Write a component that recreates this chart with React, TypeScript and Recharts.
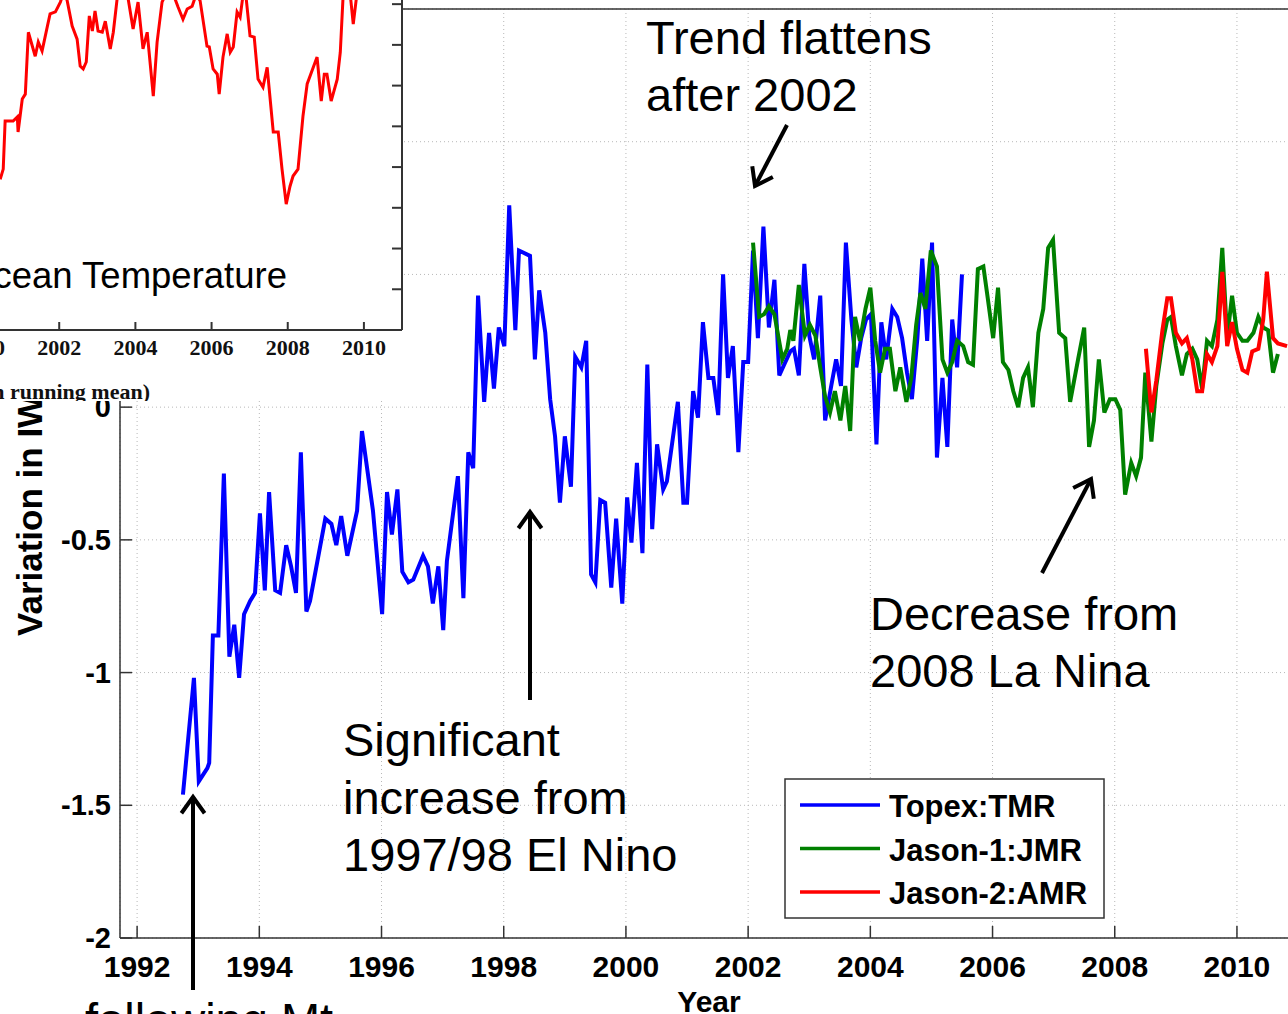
import React from 'react';
import { LineChart, Line, XAxis, YAxis, CartesianGrid, ReferenceLine } from 'recharts';

// ---------- Main chart data: variation in IWV (mm) ----------
const topexYears = [
  1992.75, 1992.93, 1993.01, 1993.15, 1993.18, 1993.24, 1993.33, 1993.42, 1993.51, 1993.59,
  1993.67, 1993.75, 1993.85, 1993.93, 1994.01, 1994.09, 1994.16, 1994.26, 1994.34, 1994.44,
  1994.52, 1994.6, 1994.68, 1994.77, 1994.83, 1995.08, 1995.18, 1995.26, 1995.34, 1995.44,
  1995.6, 1995.68, 1995.86, 1996.01, 1996.09, 1996.17, 1996.26, 1996.34, 1996.44, 1996.52,
  1996.68, 1996.76, 1996.84, 1996.93, 1997.01, 1997.07, 1997.25, 1997.34, 1997.42, 1997.5,
  1997.58, 1997.68, 1997.76, 1997.84, 1997.92, 1998.01, 1998.09, 1998.19, 1998.25, 1998.43,
  1998.51, 1998.58, 1998.68, 1998.76, 1998.84, 1998.92, 1999.0, 1999.1, 1999.17, 1999.27,
  1999.35, 1999.43, 1999.5, 1999.58, 1999.66, 1999.76, 1999.84, 1999.94, 2000.02, 2000.09,
  2000.18, 2000.27, 2000.35, 2000.43, 2000.51, 2000.61, 2000.67, 2000.85, 2000.94, 2001.0,
  2001.1, 2001.18, 2001.26, 2001.35, 2001.43, 2001.51, 2001.59, 2001.67, 2001.75, 2001.84,
  2001.92, 2002.0, 2002.08, 2002.16, 2002.25, 2002.34, 2002.43, 2002.51, 2002.61, 2002.69,
  2002.75, 2002.83, 2002.92, 2003.0, 2003.08, 2003.18, 2003.26, 2003.36, 2003.44, 2003.52,
  2003.6, 2003.69, 2003.77, 2003.85, 2003.93, 2004.01, 2004.1, 2004.18, 2004.26, 2004.36,
  2004.44, 2004.52, 2004.6, 2004.68, 2004.77, 2004.85, 2004.93, 2005.01, 2005.09, 2005.18,
  2005.26, 2005.34, 2005.42, 2005.5,
];
const topexIwv = [
  -1.46, -1.02, -1.41, -1.36, -1.34, -0.86, -0.86, -0.25, -0.94, -0.82,
  -1.02, -0.78, -0.73, -0.7, -0.4, -0.69, -0.32, -0.69, -0.7, -0.52,
  -0.6, -0.7, -0.17, -0.77, -0.73, -0.42, -0.44, -0.52, -0.41, -0.56,
  -0.39, -0.09, -0.39, -0.78, -0.32, -0.48, -0.31, -0.62, -0.66, -0.65,
  -0.56, -0.6, -0.74, -0.6, -0.84, -0.58, -0.26, -0.72, -0.17, -0.23,
  0.42, 0.02, 0.28, 0.07, 0.3, 0.23, 0.76, 0.29, 0.59, 0.57,
  0.18, 0.44, 0.28, 0.03, -0.11, -0.36, -0.11, -0.3, 0.19, 0.15,
  0.25, -0.63, -0.66, -0.35, -0.36, -0.68, -0.42, -0.74, -0.34, -0.51,
  -0.21, -0.55, 0.16, -0.46, -0.14, -0.31, -0.28, 0.02, -0.36, -0.36,
  0.06, -0.04, 0.32, 0.11, 0.11, -0.03, 0.5, 0.11, 0.23, -0.17,
  0.17, 0.17, 0.59, 0.26, 0.68, 0.3, 0.48, 0.12, 0.17, 0.21,
  0.22, 0.12, 0.54, 0.27, 0.18, 0.42, -0.05, 0.08, 0.18, 0.08,
  0.62, 0.33, 0.15, 0.26, 0.33, 0.35, -0.14, 0.32, 0.18, 0.37,
  0.34, 0.26, 0.13, 0.03, 0.26, 0.56, 0.25, 0.62, -0.19, 0.11,
  -0.15, 0.33, 0.15, 0.5,
];

const jason1Years = [
  2002.08, 2002.18, 2002.26, 2002.34, 2002.43, 2002.56, 2002.64, 2002.69, 2002.74, 2002.83,
  2002.93, 2003.01, 2003.1, 2003.18, 2003.26, 2003.34, 2003.42, 2003.51, 2003.59, 2003.67,
  2003.75, 2003.83, 2003.92, 2004.0, 2004.08, 2004.16, 2004.24, 2004.32, 2004.41, 2004.49,
  2004.59, 2004.67, 2004.75, 2004.82, 2004.9, 2004.99, 2005.09, 2005.18, 2005.26, 2005.34,
  2005.42, 2005.52, 2005.6, 2005.68, 2005.76, 2005.85, 2005.91, 2006.01, 2006.09, 2006.17,
  2006.26, 2006.34, 2006.42, 2006.5, 2006.58, 2006.66, 2006.75, 2006.83, 2006.91, 2006.99,
  2007.09, 2007.19, 2007.27, 2007.4, 2007.5, 2007.58, 2007.66, 2007.74, 2007.83, 2007.92,
  2008.01, 2008.09, 2008.17, 2008.27, 2008.35, 2008.43, 2008.5, 2008.6, 2008.68, 2008.78,
  2008.86, 2008.92, 2009.0, 2009.1, 2009.18, 2009.27, 2009.35, 2009.43, 2009.51, 2009.59,
  2009.68, 2009.76, 2009.84, 2009.92, 2010.0, 2010.09, 2010.17, 2010.27, 2010.35, 2010.43,
  2010.51, 2010.59, 2010.67,
];
const jason1Iwv = [
  0.62, 0.34, 0.35, 0.38, 0.35, 0.18, 0.22, 0.29, 0.25, 0.46,
  0.27, 0.31, 0.27, 0.15, 0.04, -0.02, 0.06, -0.05, 0.08, -0.09,
  0.34, 0.25, 0.37, 0.45, 0.25, 0.13, 0.22, 0.22, 0.06, 0.15,
  0.02, 0.11, 0.31, 0.43, 0.37, 0.59, 0.53, 0.18, 0.13, 0.17,
  0.25, 0.23, 0.17, 0.16, 0.52, 0.53, 0.43, 0.26, 0.45, 0.17,
  0.14, 0.06, 0.0, 0.11, 0.15, 0.0, 0.28, 0.37, 0.6, 0.63,
  0.28, 0.26, 0.02, 0.18, 0.3, -0.15, -0.05, 0.18, -0.02, 0.03,
  0.03, -0.01, -0.33, -0.21, -0.26, -0.19, 0.13, -0.13, 0.08, 0.24,
  0.33, 0.34, 0.23, 0.12, 0.2, 0.22, 0.18, 0.07, 0.25, 0.23,
  0.33, 0.6, 0.26, 0.42, 0.28, 0.25, 0.25, 0.28, 0.34, 0.3,
  0.29, 0.13, 0.2,
];

const jason2Years = [
  2008.51, 2008.6, 2008.68, 2008.78, 2008.86, 2008.92, 2009.0, 2009.1, 2009.18, 2009.27,
  2009.35, 2009.43, 2009.51, 2009.59, 2009.68, 2009.76, 2009.84, 2009.92, 2010.0, 2010.09,
  2010.17, 2010.25, 2010.35, 2010.43, 2010.49, 2010.59, 2010.67, 2010.82,
];
const jason2Iwv = [
  0.22, -0.02, 0.1, 0.29, 0.41, 0.41, 0.28, 0.24, 0.26, 0.18,
  0.06, 0.06, 0.2, 0.17, 0.23, 0.51, 0.23, 0.32, 0.22, 0.14,
  0.13, 0.21, 0.22, 0.33, 0.51, 0.26, 0.24, 0.23,
];

const yearTicks = [1992, 1994, 1996, 1998, 2000, 2002, 2004, 2006, 2008, 2010];
const iwvTicks = [-2, -1.5, -1, -0.5, 0, 0.5, 1, 1.5];

// ---------- Inset data: ocean temperature (running mean, unlabelled units) ----------
const oceanYears = [
  2000.45, 2000.53, 2000.58, 2000.79, 2000.9, 2000.92, 2001.03, 2001.11, 2001.19, 2001.37,
  2001.45, 2001.55, 2001.69, 2001.76, 2001.9, 2002.03, 2002.13, 2002.21, 2002.34, 2002.47,
  2002.55, 2002.63, 2002.71, 2002.79, 2002.87, 2002.94, 2003.02, 2003.13, 2003.21, 2003.34,
  2003.42, 2003.52, 2003.65, 2003.81, 2003.94, 2004.07, 2004.2, 2004.31, 2004.47, 2004.57,
  2004.7, 2004.86, 2005.04, 2005.12, 2005.25, 2005.36, 2005.49, 2005.6, 2005.7, 2005.88,
  2005.94, 2006.04, 2006.15, 2006.2, 2006.3, 2006.41, 2006.49, 2006.57, 2006.67, 2006.75,
  2006.83, 2006.91, 2007.01, 2007.12, 2007.22, 2007.35, 2007.46, 2007.62, 2007.75, 2007.85,
  2007.96, 2008.06, 2008.14, 2008.27, 2008.4, 2008.51, 2008.77, 2008.88, 2008.96, 2009.03,
  2009.14, 2009.3, 2009.38, 2009.45, 2009.56, 2009.64, 2009.72, 2009.8, 2009.9,
];
const oceanTemp = [
  2.7, 2.95, 4.13, 4.13, 4.23, 3.86, 4.67, 4.79, 6.31, 5.72,
  6.07, 5.85, 6.46, 6.76, 6.81, 7.05, 7.32, 7.08, 6.46, 6.14,
  5.48, 5.41, 5.58, 6.71, 6.34, 6.83, 6.34, 6.31, 6.58, 5.9,
  6.31, 7.13, 7.49, 7.13, 6.39, 7.05, 5.9, 6.31, 4.74, 6.07,
  7.05, 7.37, 7.13, 6.93, 6.63, 6.88, 6.95, 7.25, 7.08, 5.97,
  5.95, 5.41, 5.28, 4.79, 5.7, 6.27, 5.82, 5.95, 6.81, 6.68,
  7.25, 7.13, 6.22, 6.19, 5.16, 4.96, 5.45, 3.86, 3.86, 2.95,
  2.09, 2.53, 2.78, 2.95, 4.25, 5.04, 5.7, 4.62, 5.28, 5.28,
  4.62, 5.16, 5.82, 7.13, 7.49, 7.25, 6.51, 7.13, 7.49,
];
const insetYearTicks = [2000, 2002, 2004, 2006, 2008, 2010];
const insetTempTicks = [0, 1, 2, 3, 4, 5, 6, 7];

const toPoints = (xs: number[], ys: number[]) => xs.map((x, i) => ({ year: x, value: ys[i] }));

const series = [
  { name: 'Topex:TMR', color: '#0000FF', data: toPoints(topexYears, topexIwv) },
  { name: 'Jason-1:JMR', color: '#008000', data: toPoints(jason1Years, jason1Iwv) },
  { name: 'Jason-2:AMR', color: '#FF0000', data: toPoints(jason2Years, jason2Iwv) },
];
const oceanData = toPoints(oceanYears, oceanTemp);

const SANS = '"Liberation Sans", Arial, Helvetica, sans-serif';
const SERIF = '"Liberation Serif", "Times New Roman", Times, serif';
const AXIS = '#333';

const MainXTick = (props: any) => {
  const { x, y, payload } = props;
  return (
    <g>
      <line x1={x} y1={y} x2={x} y2={y - 12} stroke={AXIS} strokeWidth={1.5} />
      <text x={x} y={y + 39} textAnchor="middle" fontFamily={SANS} fontWeight="bold" fontSize={30} fill="#000">
        {payload.value}
      </text>
    </g>
  );
};

const MainYTick = (props: any) => {
  const { x, y, payload } = props;
  return (
    <g>
      <line x1={x} y1={y} x2={x + 12} y2={y} stroke={AXIS} strokeWidth={1.5} />
      <text x={x - 9} y={y + 10} textAnchor="end" fontFamily={SANS} fontWeight="bold" fontSize={29} fill="#000">
        {String(payload.value)}
      </text>
    </g>
  );
};

const InsetXTick = (props: any) => {
  const { x, y, payload } = props;
  return (
    <g>
      <line x1={x} y1={y} x2={x} y2={y - 8} stroke={AXIS} strokeWidth={2} />
      <text x={x} y={y + 25} textAnchor="middle" fontFamily={SERIF} fontWeight="bold" fontSize={22} fill="#111">
        {payload.value}
      </text>
    </g>
  );
};

const InsetYTick = (props: any) => {
  const { x, y } = props;
  return <line x1={x} y1={y} x2={x - 10} y2={y} stroke={AXIS} strokeWidth={2} />;
};

const Arrow = ({ x1, y1, x2, y2 }: { x1: number; y1: number; x2: number; y2: number }) => {
  const a = Math.atan2(y2 - y1, x2 - x1);
  const L = 20;
  const h = 0.62;
  const p1 = `${x2 - L * Math.cos(a - h)},${y2 - L * Math.sin(a - h)}`;
  const p2 = `${x2 - L * Math.cos(a + h)},${y2 - L * Math.sin(a + h)}`;
  return (
    <g stroke="#000" strokeWidth={4} fill="none">
      <line x1={x1} y1={y1} x2={x2} y2={y2} />
      <polyline points={`${p1} ${x2},${y2} ${p2}`} strokeLinejoin="miter" />
    </g>
  );
};

const annoStyle = { fontFamily: SANS, fontSize: 47, fill: '#000' } as const;

export default function App() {
  return (
    <div style={{ position: 'absolute', left: 0, top: 0, width: 1288, height: 1014, overflow: 'hidden', background: '#fff' }}>
      {/* Main chart */}
      <div style={{ position: 'absolute', left: 0, top: 0 }}>
        <LineChart width={1310} height={1014} margin={{ top: 9, right: 15, bottom: 0, left: 0 }}>
          <CartesianGrid stroke="#b8b8b8" strokeDasharray="1 3" />
          <XAxis
            dataKey="year"
            type="number"
            domain={[1991.72, 2010.95]}
            allowDataOverflow
            ticks={yearTicks}
            height={76}
            tickSize={0}
            tickMargin={0}
            tickLine={false}
            axisLine={{ stroke: AXIS, strokeWidth: 1.5 }}
            tick={<MainXTick />}
          />
          <YAxis
            type="number"
            domain={[-2, 1.5]}
            allowDataOverflow
            ticks={iwvTicks}
            width={120}
            tickSize={0}
            tickMargin={0}
            tickLine={false}
            axisLine={{ stroke: AXIS, strokeWidth: 1.5 }}
            tick={<MainYTick />}
          />
          <ReferenceLine y={1.5} stroke={AXIS} strokeWidth={1.5} />
          {series.map((s) => (
            <Line
              key={s.name}
              name={s.name}
              data={s.data}
              dataKey="value"
              type="linear"
              stroke={s.color}
              strokeWidth={4}
              dot={false}
              activeDot={false}
              isAnimationActive={false}
            />
          ))}
        </LineChart>
      </div>

      {/* Annotations, axis titles and legend */}
      <svg width={1288} height={1014} style={{ position: 'absolute', left: 0, top: 0, pointerEvents: 'none' }}>
        <text transform="translate(42,636) rotate(-90)" fontFamily={SANS} fontWeight="bold" fontSize={35} fill="#000">
          Variation in IWV (mm)
        </text>
        <text x={709} y={1012} textAnchor="middle" fontFamily={SANS} fontWeight="bold" fontSize={30} fill="#000">
          Year
        </text>

        <text x={646} y={54} {...annoStyle}>Trend flattens</text>
        <text x={646} y={111} {...annoStyle}>after 2002</text>
        <Arrow x1={787} y1={125} x2={755} y2={186} />

        <text x={343} y={756} {...annoStyle}>Significant</text>
        <text x={343} y={814} {...annoStyle}>increase from</text>
        <text x={343} y={871} {...annoStyle}>1997/98 El Nino</text>
        <Arrow x1={530} y1={700} x2={530} y2={512} />

        <text x={870} y={630} {...annoStyle}>Decrease from</text>
        <text x={870} y={687} {...annoStyle}>2008 La Nina</text>
        <Arrow x1={1042} y1={573} x2={1091} y2={479} />

        <text x={85} y={1036} {...annoStyle}>following Mt</text>
        <Arrow x1={193} y1={990} x2={193} y2={797} />

        {/* legend */}
        <rect x={785} y={779} width={319} height={139} fill="#fff" stroke={AXIS} strokeWidth={1.5} />
        {series.map((s, i) => (
          <g key={s.name}>
            <line x1={800} y1={805 + i * 43.5} x2={880} y2={805 + i * 43.5} stroke={s.color} strokeWidth={3.5} />
            <text x={889} y={817 + i * 43.5} fontFamily={SANS} fontWeight="bold" fontSize={31} fill="#000">
              {s.name}
            </text>
          </g>
        ))}
      </svg>

      {/* Inset: ocean temperature */}
      <div style={{ position: 'absolute', left: 0, top: 0, width: 403, height: 401, overflow: 'hidden', background: '#fff' }}>
        <div style={{ position: 'absolute', left: -100, top: -20 }}>
          <LineChart width={503} height={423} margin={{ top: 16, right: 0, bottom: 0, left: 64 }}>
            <XAxis
              dataKey="year"
              type="number"
              domain={[1999.5, 2011]}
              allowDataOverflow
              ticks={insetYearTicks}
              height={73}
              tickSize={0}
              tickMargin={0}
              tickLine={false}
              axisLine={{ stroke: AXIS, strokeWidth: 2 }}
              tick={<InsetXTick />}
            />
            <YAxis
              orientation="right"
              type="number"
              domain={[-1, 7.2]}
              allowDataOverflow
              ticks={insetTempTicks}
              width={1}
              tickSize={0}
              tickMargin={0}
              tickLine={false}
              axisLine={{ stroke: AXIS, strokeWidth: 2 }}
              tick={<InsetYTick />}
            />
            <Line
              data={oceanData}
              dataKey="value"
              type="linear"
              stroke="#FF0000"
              strokeWidth={3}
              dot={false}
              activeDot={false}
              isAnimationActive={false}
            />
          </LineChart>
        </div>
        <svg width={403} height={401} style={{ position: 'absolute', left: 0, top: 0, pointerEvents: 'none' }}>
          <text x={287} y={288} textAnchor="end" fontFamily={SANS} fontSize={36.5} fill="#000">
            Ocean Temperature
          </text>
          <text x={150} y={399} textAnchor="end" fontFamily={SERIF} fontWeight="bold" fontSize={22} fill="#111">
            (12-month running mean)
          </text>
        </svg>
      </div>
    </div>
  );
}
